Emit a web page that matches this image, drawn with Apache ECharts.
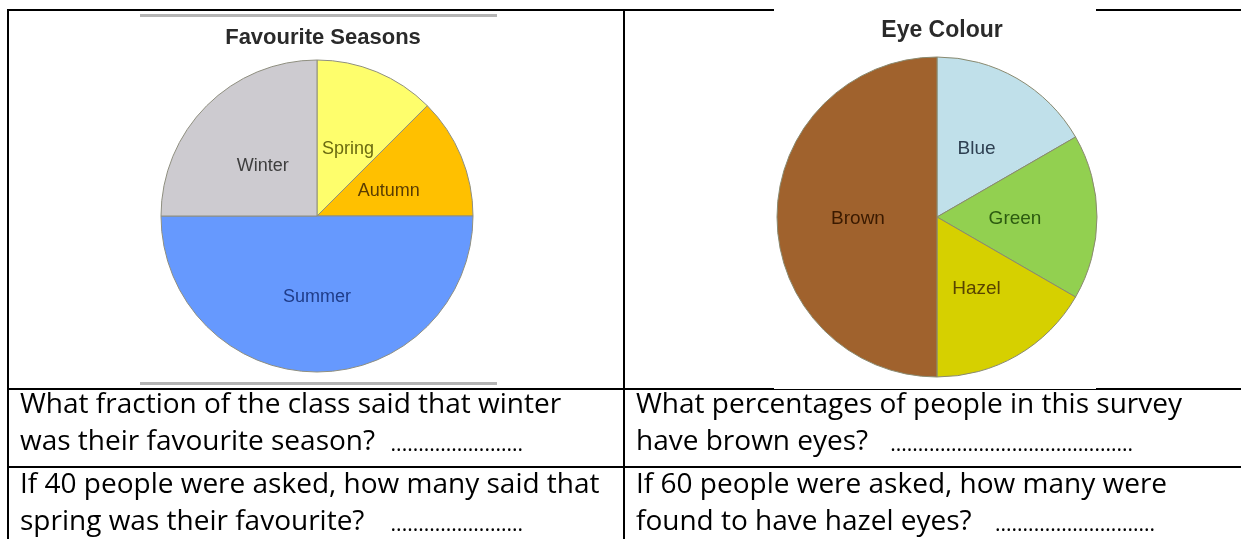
<!DOCTYPE html>
<html>
<head>
<meta charset="utf-8">
<script src="https://cdn.jsdelivr.net/npm/echarts@6/dist/echarts.min.js"></script>
<style>
html,body{margin:0;padding:0;background:#fff;}
#c{width:1241px;height:539px;}
</style>
</head>
<body>
<div id="c"></div>
<script>
// ---- data ----
const seasonTitle = 'Favourite Seasons';
const seasonNames = ['Spring', 'Autumn', 'Summer', 'Winter'];
const seasonValues = [12.5, 12.5, 50, 25];
const seasonColors = ['#fefe6c', '#ffc000', '#6699fe', '#cdcbd0'];
const seasonLabelColors = ['#6a6a10', '#5a3c00', '#1f3c88', '#3e3e3e'];

const eyeTitle = 'Eye Colour';
const eyeNames = ['Blue', 'Green', 'Hazel', 'Brown'];
const eyeValues = [16.67, 16.67, 16.67, 50];
const eyeColors = ['#c0e0ea', '#92d050', '#d6d000', '#a0622d'];
const eyeLabelColors = ['#2e4052', '#2c5a10', '#584400', '#3a1a00'];

const questionLines = [
  'What fraction of the class said that winter',
  'What percentages of people in this survey',
  'If 40 people were asked, how many said that',
  'If 60 people were asked, how many were'
];
const answerLines = [
  'was their favourite season?',
  'have brown eyes?',
  'spring was their favourite?',
  'found to have hazel eyes?'
];
const answerDots = [
  '........................',
  '............................................',
  '........................',
  '.............................'
];

// ---- layout (not data) ----
const seasonLabelShift = [[0, 8], [-3, 6], [0, 0], [3, 7]];
const eyeLabelShift = [[-2, 4], [-5, 2], [-2, 0], [4, 2]];
const qX = [20, 636, 20, 636];
const qY = [405, 405, 485, 485];
const dotEnd = [523, 1133, 523, 1155];

function mk(names, values, colors, lcolors) {
  return names.map((n, i) => ({
    name: n, value: values[i],
    itemStyle: { color: colors[i] },
    label: { color: lcolors[i] }
  }));
}

const chart = echarts.init(document.getElementById('c'), null, { renderer: 'canvas' });

const QF = '28px "Open Sans"';
const DF = '21px "Open Sans"';
const qText = [];
questionLines.forEach((q, i) => {
  qText.push({ type: 'text', x: qX[i], y: qY[i], z: 10,
    style: { text: q, font: QF, fill: '#000', align: 'left', verticalAlign: 'middle' } });
  qText.push({ type: 'text', x: qX[i], y: qY[i] + 37, z: 10,
    style: { text: answerLines[i], font: QF, fill: '#000', align: 'left', verticalAlign: 'middle' } });
  qText.push({ type: 'text', x: dotEnd[i], y: qY[i] + 37 + 3, z: 10,
    style: { text: answerDots[i], font: DF, fill: '#000', align: 'right', verticalAlign: 'middle' } });
});

const lines = [
  { type: 'rect', shape: { x: 7, y: 9, width: 1234, height: 2 }, style: { fill: '#000' }, z: 1 },
  { type: 'rect', shape: { x: 7, y: 9, width: 2, height: 530 }, style: { fill: '#000' }, z: 1 },
  { type: 'rect', shape: { x: 623, y: 9, width: 2, height: 530 }, style: { fill: '#000' }, z: 1 },
  { type: 'rect', shape: { x: 7, y: 388, width: 1234, height: 2 }, style: { fill: '#000' }, z: 1 },
  { type: 'rect', shape: { x: 7, y: 466, width: 1234, height: 2 }, style: { fill: '#000' }, z: 1 },
  { type: 'rect', shape: { x: 774, y: 8, width: 322, height: 381 }, style: { fill: '#fff' }, z: 2 },
  { type: 'rect', shape: { x: 140, y: 14, width: 357, height: 3 }, style: { fill: '#b4b4b4' }, z: 3 },
  { type: 'rect', shape: { x: 140, y: 382, width: 357, height: 3 }, style: { fill: '#b4b4b4' }, z: 3 }
];

function shiftLayout(shifts) {
  return function (p) { const s = shifts[p.dataIndex] || [0, 0]; return { dx: s[0], dy: s[1] }; };
}

chart.setOption({
  animation: false,
  title: [
    { text: seasonTitle, left: 318, top: 22, textAlign: 'center',
      textStyle: { fontFamily: 'Liberation Sans', fontSize: 22, fontWeight: 'bold', color: '#2a2a2a' } },
    { text: eyeTitle, left: 937, top: 14, textAlign: 'center',
      textStyle: { fontFamily: 'Liberation Sans', fontSize: 23, fontWeight: 'bold', color: '#2a2a2a' } }
  ],
  graphic: { elements: lines.concat(qText) },
  series: [
    {
      type: 'pie', center: [317, 216], radius: 156, startAngle: 90, clockwise: true,
      z: 5,
      label: { position: 'inside', fontFamily: 'Liberation Sans', fontSize: 18 },
      labelLine: { show: false },
      labelLayout: shiftLayout(seasonLabelShift),
      itemStyle: { borderColor: '#8f8f80', borderWidth: 1 },
      emphasis: { disabled: true },
      data: mk(seasonNames, seasonValues, seasonColors, seasonLabelColors)
    },
    {
      type: 'pie', center: [937, 217], radius: 160, startAngle: 90, clockwise: true,
      z: 5,
      label: { position: 'inside', fontFamily: 'Liberation Sans', fontSize: 19 },
      labelLine: { show: false },
      labelLayout: shiftLayout(eyeLabelShift),
      itemStyle: { borderColor: '#8a8a70', borderWidth: 1 },
      emphasis: { disabled: true },
      data: mk(eyeNames, eyeValues, eyeColors, eyeLabelColors)
    }
  ]
});
</script>
</body>
</html>
